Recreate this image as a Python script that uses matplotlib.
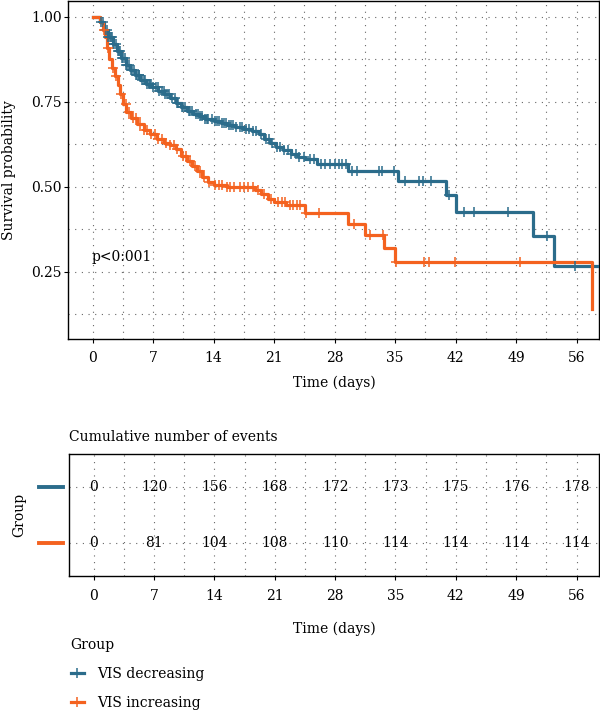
import numpy as np
import matplotlib
matplotlib.use("Agg")
import matplotlib.pyplot as plt
from matplotlib.lines import Line2D
from matplotlib.transforms import blended_transform_factory

# ---- data ----
groups = ["VIS decreasing", "VIS increasing"]
colors = ["#2B6C8B", "#F4621F"]

dec_time = [0, 0.9, 1.3, 1.8, 2.3, 2.8, 3.3, 3.8, 4.3, 4.9, 5.5, 6.2, 6.9, 7.6, 8.3,
            9.0, 9.6, 10.2, 10.9, 11.6, 12.3, 13.0, 14.0, 14.8, 15.6, 16.5, 17.4, 18.4,
            19.2, 19.8, 20.5, 21.2, 22.0, 22.9, 23.8, 24.6, 26.0, 29.5, 35.3, 40.9,
            42.0, 51.0, 53.4, 58.6]
dec_surv = [1.0, 0.985, 0.962, 0.94, 0.92, 0.90, 0.878, 0.86, 0.843, 0.828, 0.815, 0.802,
            0.793, 0.783, 0.773, 0.761, 0.748, 0.735, 0.724, 0.714, 0.707, 0.700, 0.694,
            0.688, 0.682, 0.676, 0.670, 0.664, 0.655, 0.641, 0.628, 0.618, 0.608, 0.598,
            0.588, 0.581, 0.567, 0.547, 0.518, 0.476, 0.427, 0.356, 0.266, 0.266]
dec_cens = [1.0, 1.2, 1.4, 1.6, 1.8, 2.0, 2.1, 2.2, 2.4, 2.5, 2.7, 2.9, 3.0, 3.2, 3.4,
            3.5, 3.7, 3.9, 4.0, 4.2, 4.4, 4.6, 4.8, 5.0, 5.1, 5.3, 5.4, 5.7, 5.9, 6.0,
            6.3, 6.5, 6.6, 6.8, 7.0, 7.3, 7.5, 7.7, 8.0, 8.2, 8.4, 8.6, 8.8, 9.2, 9.5,
            9.7, 9.9, 10.3, 10.5, 10.7, 11.1, 11.3, 11.5, 11.9, 12.2, 12.4, 12.6, 13.0,
            13.2, 13.4, 13.8, 14.2, 14.4, 14.6, 15.0, 15.2, 15.4, 15.8, 16.0, 16.2, 16.6,
            17.0, 17.3, 17.7, 18.1, 18.5, 18.9, 19.5, 20.0, 20.4, 20.8, 21.3, 21.7, 22.1,
            22.6, 23.0, 23.5, 23.9, 24.4, 25.2, 25.6, 26.4, 26.9, 27.5, 28.1, 28.5, 28.9,
            29.3, 30.0, 30.6, 33.1, 33.5, 34.9, 36.2, 37.8, 38.2, 39.1, 41.2, 43.0, 44.1,
            48.1, 52.6, 55.8]

inc_time = [0, 0.9, 1.2, 1.45, 1.65, 1.85, 2.2, 2.6, 2.9, 3.2, 3.5, 3.9, 4.4, 5.1, 5.9,
            6.6, 7.4, 8.3, 9.0, 9.6, 10.2, 10.9, 11.5, 12.1, 12.7, 13.3, 14.0, 15.5, 18.8,
            19.5, 20.3, 21.0, 22.4, 24.6, 29.5, 31.5, 33.7, 35.0, 57.8]
inc_surv = [1.0, 0.985, 0.962, 0.94, 0.91, 0.876, 0.85, 0.826, 0.80, 0.773, 0.745, 0.72,
            0.703, 0.685, 0.668, 0.655, 0.642, 0.630, 0.622, 0.610, 0.592, 0.575, 0.562,
            0.548, 0.530, 0.515, 0.505, 0.500, 0.490, 0.480, 0.465, 0.455, 0.447, 0.423,
            0.392, 0.359, 0.320, 0.279, 0.141]
inc_cens = [1.3, 1.8, 2.4, 2.7, 3.3, 3.8, 4.2, 4.7, 5.0, 5.5, 5.9, 6.3, 6.8, 7.2, 7.6,
            8.0, 8.5, 9.0, 9.4, 9.8, 10.4, 10.8, 11.3, 11.8, 12.4, 12.9, 13.5, 14.2, 14.6,
            15.0, 15.5, 15.9, 16.4, 17.0, 17.5, 18.0, 18.5, 19.1, 19.8, 20.6, 21.4, 21.9,
            22.3, 22.8, 23.2, 23.6, 24.0, 24.7, 26.2, 30.2, 32.1, 33.6, 35.1, 38.3, 38.9,
            41.9, 49.4]

table_times = [0, 7, 14, 21, 28, 35, 42, 49, 56]
dec_events = [0, 120, 156, 168, 172, 173, 175, 176, 178]
inc_events = [0, 81, 104, 108, 110, 114, 114, 114, 114]

p_text = "p<0:001"

# ---- style ----
FS = 10
plt.rcParams["font.family"] = ["DejaVu Serif"]
plt.rcParams["font.size"] = FS

W, H = 600, 714
fig = plt.figure(figsize=(W / 100, H / 100), dpi=100)

xlim = (-2.86, 58.6)
grid_kw = dict(color="#666666", linestyle=(0, (1, 5)), linewidth=0.8)

# main survival plot
ax = fig.add_axes([68 / W, 1 - 339 / H, 531 / W, 338 / H])
curves = [(dec_time, dec_surv, dec_cens), (inc_time, inc_surv, inc_cens)]
for (t, s, c), col in zip(curves, colors):
    t = np.array(t)
    s = np.array(s)
    ax.step(t, s, where="post", color=col, lw=2.3, zorder=3)
    idx = np.searchsorted(t, c, side="right") - 1
    ax.plot(c, s[idx], ls="none", marker="+", ms=6.5, mew=1.1, color=col, zorder=4)

ax.set_xlim(*xlim)
ax.set_ylim(0.052, 1.047)
ax.set_xticks(table_times)
ax.set_xticks([x + 3.5 for x in table_times[:-1]], minor=True)
ax.set_yticks([0.25, 0.50, 0.75, 1.00])
ax.set_yticklabels(["0.25", "0.50", "0.75", "1.00"])
ax.set_yticks([0.125, 0.375, 0.625, 0.875], minor=True)
ax.grid(True, which="both", **grid_kw)
ax.tick_params(which="major", length=3, width=0.8, labelsize=FS)
ax.tick_params(axis="x", pad=6)
ax.tick_params(axis="y", pad=1.5)
ax.tick_params(which="minor", length=0)
for sp in ax.spines.values():
    sp.set_linewidth(1.0)
ax.text(-0.1, 0.293, p_text, fontsize=FS, va="center", ha="left")
fig.text(9 / W, 1 - 170 / H, "Survival probability", rotation=90,
         ha="center", va="center", fontsize=FS)
fig.text(334 / W, 1 - 383 / H, "Time (days)", ha="center", va="center", fontsize=FS)

# risk table (cumulative events)
tab = fig.add_axes([69 / W, 1 - 576 / H, 530 / W, 122 / H])
tab.set_xlim(*xlim)
tab.set_ylim(0.4, 2.6)
for x, a, b in zip(table_times, dec_events, inc_events):
    tab.text(x, 2, str(a), ha="center", va="center", fontsize=FS)
    tab.text(x, 1, str(b), ha="center", va="center", fontsize=FS)
tab.set_xticks(table_times)
tab.set_xticks([x + 3.5 for x in table_times[:-1]], minor=True)
tab.set_yticks([1, 2])
tab.set_yticklabels([])
tab.grid(True, which="both", **grid_kw)
tab.tick_params(which="major", length=3, width=0.8, pad=6, labelsize=FS)
tab.tick_params(axis="y", length=0)
tab.tick_params(which="minor", length=0)
for sp in tab.spines.values():
    sp.set_linewidth(1.0)
trans = blended_transform_factory(tab.transAxes, tab.transData)
for yrow, col in zip([2, 1], colors):
    tab.add_line(Line2D([-0.056, -0.011], [yrow, yrow], color=col, lw=2.8,
                        transform=trans, clip_on=False))
fig.text(69 / W, 1 - 437 / H, "Cumulative number of events", ha="left", va="center",
         fontsize=FS)
fig.text(19 / W, 1 - 515 / H, "Group", rotation=90, ha="center", va="center",
         fontsize=FS)
fig.text(334 / W, 1 - 629 / H, "Time (days)", ha="center", va="center", fontsize=FS)

# legend
handles = [Line2D([], [], color=c, lw=2.3, marker="+", ms=7, mew=1.1) for c in colors]
leg = fig.legend(handles, groups, loc="upper left", bbox_to_anchor=(58 / W, 1 - 626 / H),
                 frameon=False, title="Group", fontsize=FS, title_fontsize=FS,
                 handlelength=1.0, handletextpad=0.9, labelspacing=1.05)
leg._legend_box.align = "left"

fig.savefig("out.png", dpi=100)
